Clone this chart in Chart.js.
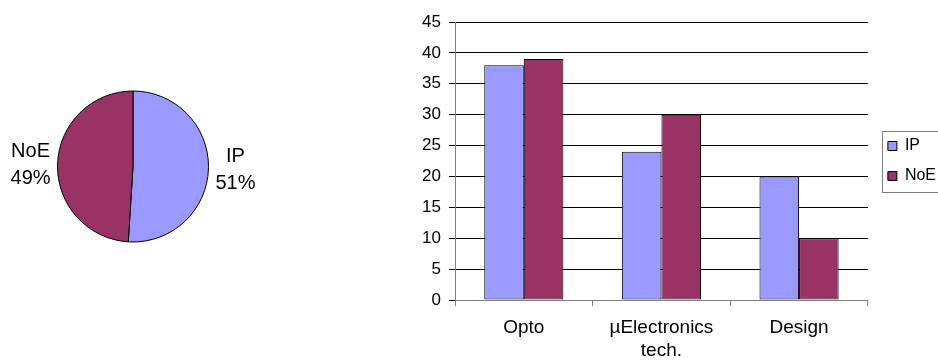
<!DOCTYPE html>
<html>
<head>
<meta charset="utf-8">
<script src="https://cdn.jsdelivr.net/npm/chart.js@4/dist/chart.umd.min.js"></script>
<style>
  html, body { margin: 0; padding: 0; background: #fff; width: 938px; height: 361px; overflow: hidden; }
  #pie { position: absolute; left: 0; top: 0; }
  #bars { position: absolute; left: 280px; top: 0; }
</style>
</head>
<body>
<canvas id="pie" width="280" height="361"></canvas>
<canvas id="bars" width="660" height="361"></canvas>
<script>
// Project areas and the two partner groups
const categories = ['Opto', ['µElectronics', 'tech.'], 'Design'];
const seriesNames = ['IP', 'NoE'];
const ipValues = [38, 24, 20];
const noeValues = [39, 30, 10];
// Overall share of each group (percent)
const pieShares = [51, 49];
// Value axis
const yMin = 0;
const yMax = 45;
const yStep = 5;

const FONT = '"Liberation Sans", Arial, Helvetica, sans-serif';
const COLORS = ['#9999FF', '#993366'];

Chart.defaults.font.family = FONT;
Chart.defaults.color = '#000';

// Name + percentage written beside each slice
const sliceLabels = {
  id: 'sliceLabels',
  afterDatasetsDraw(chart) {
    const { ctx } = chart;
    const meta = chart.getDatasetMeta(0);
    const values = chart.data.datasets[0].data;
    const total = values.reduce((a, b) => a + b, 0);
    meta.data.forEach((arc, i) => {
      const mid = (arc.startAngle + arc.endAngle) / 2;
      const r = arc.outerRadius + 27;
      const x = arc.x + Math.cos(mid) * r;
      const y = arc.y + Math.sin(mid) * r + (i === 1 ? 2 : 0);
      ctx.save();
      ctx.font = '20px ' + FONT;
      ctx.fillStyle = '#000';
      ctx.textAlign = 'center';
      ctx.textBaseline = 'middle';
      ctx.fillText(chart.data.labels[i], x, y - 13.3);
      ctx.fillText(Math.round(values[i] / total * 100) + '%', x, y + 13.3);
      ctx.restore();
    });
  }
};

new Chart(document.getElementById('pie'), {
  type: 'pie',
  data: {
    labels: seriesNames,
    datasets: [{
      data: pieShares,
      backgroundColor: COLORS,
      borderColor: '#000',
      borderWidth: 1,
      hoverOffset: 0,
      offset: 0
    }]
  },
  options: {
    responsive: false,
    animation: false,
    events: [],
    layout: { padding: { left: 57, top: 90, right: 71, bottom: 118 } },
    plugins: { legend: { display: false }, tooltip: { enabled: false } }
  },
  plugins: [sliceLabels]
});

// Leave a small gap between the plot and the legend, then frame the legend
const legendFrame = {
  id: 'legendFrame',
  afterLayout(chart) {
    const lg = chart.legend;
    if (lg) { lg.left += 6; lg.right += 6; }
  },
  afterDraw(chart) {
    const hb = chart.legend && chart.legend.legendHitBoxes;
    if (!hb || !hb.length) return;
    const { ctx } = chart;
    const left = Math.round(hb[0].left - 6) + 0.5;
    const top = Math.round(hb[0].top - 7) + 0.5;
    const last = hb[hb.length - 1];
    const bottom = Math.round(last.top + last.height + 8) + 0.5;
    ctx.save();
    ctx.strokeStyle = '#808080';
    ctx.lineWidth = 1;
    ctx.strokeRect(left, top, chart.width + 20 - left, bottom - top);
    ctx.restore();
  }
};

new Chart(document.getElementById('bars'), {
  type: 'bar',
  data: {
    labels: categories,
    datasets: [
      { label: seriesNames[0], data: ipValues, backgroundColor: COLORS[0] },
      { label: seriesNames[1], data: noeValues, backgroundColor: COLORS[1] }
    ]
  },
  options: {
    responsive: false,
    animation: false,
    events: [],
    layout: { padding: { top: 22, right: 0, bottom: 0, left: 0 } },
    datasets: {
      bar: {
        borderColor: '#000',
        borderWidth: 1,
        borderSkipped: false,
        categoryPercentage: 0.575,
        barPercentage: 1
      }
    },
    plugins: {
      tooltip: { enabled: false },
      legend: {
        position: 'right',
        fullSize: false,
        labels: {
          boxWidth: 9,
          boxHeight: 9,
          padding: 14,
          color: '#000',
          font: { size: 16, family: FONT }
        }
      }
    },
    scales: {
      x: {
        grid: { drawOnChartArea: false, drawTicks: true, tickLength: 6, color: '#808080', offset: true },
        border: { color: '#808080' },
        ticks: { color: '#000', font: { size: 19, lineHeight: 1.175 }, padding: 11, maxRotation: 0, autoSkip: false },
        afterFit(s) { s.height = 61; }
      },
      y: {
        min: yMin,
        max: yMax,
        ticks: { stepSize: yStep, color: '#000', font: { size: 17 }, padding: 8 },
        grid: { color: '#000', tickLength: 6 },
        border: { color: '#808080' },
        afterFit(s) { s.width = 175; }
      }
    }
  },
  plugins: [legendFrame]
});
</script>
</body>
</html>
